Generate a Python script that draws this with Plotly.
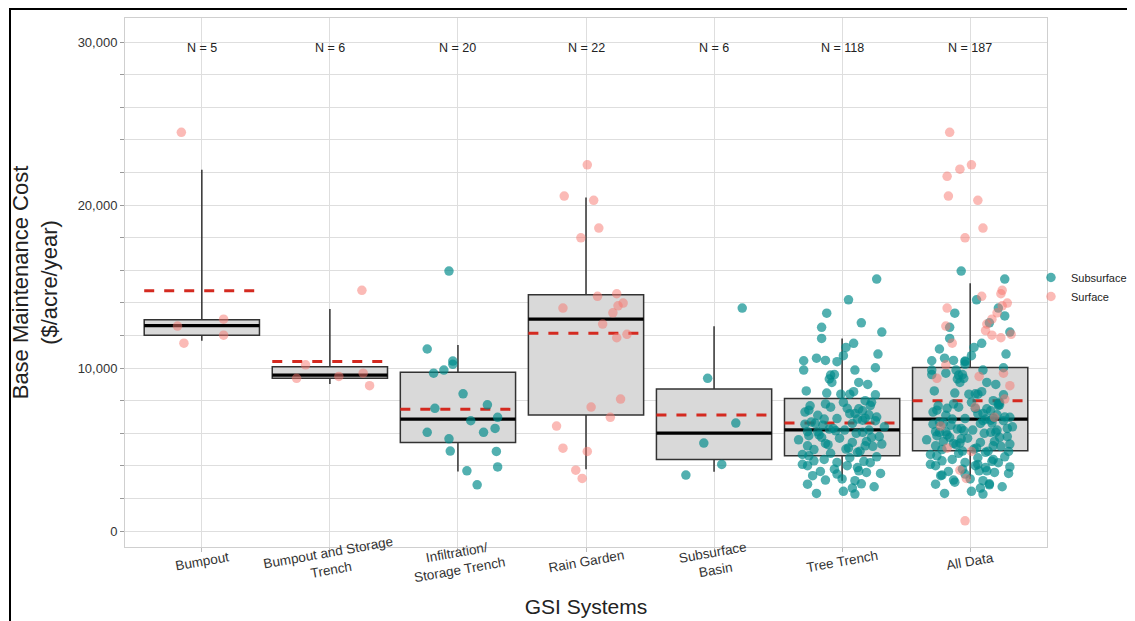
import plotly.graph_objects as go

# ---------------- data ----------------
categories = ["Bumpout", "Bumpout and Storage<br>Trench", "Infiltration/<br>Storage Trench",
              "Rain Garden", "Subsurface<br>Basin", "Tree Trench", "All Data"]
n_labels = ["N = 5", "N = 6", "N = 20", "N = 22", "N = 6", "N = 118", "N = 187"]
positions = [1, 2, 3, 4, 5, 6, 7]

# box statistics ($ thousands / acre / year)
q1_k = [12.02, 9.37, 5.44, 7.12, 4.40, 4.62, 4.93]
median_k = [12.60, 9.57, 6.87, 13.00, 6.01, 6.21, 6.87]
q3_k = [12.96, 10.08, 9.74, 14.50, 8.71, 8.14, 10.04]
lower_k = [11.67, 9.02, 3.66, 3.80, 3.64, 3.09, 3.19]
upper_k = [22.17, 13.62, 11.41, 20.47, 12.56, 11.82, 15.20]
mean_k = [14.74, 10.41, 7.47, 12.13, 7.12, 6.63, 7.99]

# individual sites ($ thousands) and horizontal jitter
bumpout_vals = [24.46, 12.58, 11.53, 13.00, 12.02]
bumpout_jit = [-0.16, -0.19, -0.14, 0.17, 0.17]
bumpout_type = "Surface"

bst_vals = [14.77, 10.20, 9.37, 9.49, 9.69, 8.92]
bst_jit = [0.25, -0.19, -0.26, 0.07, 0.26, 0.31]
bst_type = "Surface"

infil_vals = [11.17, 9.69, 9.88, 10.43, 10.23, 8.42, 7.53, 7.75, 6.77, 6.98,
              6.30, 6.06, 6.06, 5.66, 4.91, 4.89, 3.94, 3.70, 2.84, 15.95]
infil_jit = [-0.24, -0.19, -0.11, -0.04, -0.04, 0.04, -0.18, 0.23, 0.10, 0.31,
             0.29, 0.20, -0.24, -0.07, -0.06, 0.30, 0.31, 0.07, 0.15, -0.07]
infil_type = "Subsurface"

rain_vals = [22.47, 20.55, 20.29, 18.59, 17.99, 14.40, 14.56, 13.68, 13.99, 13.82, 13.39,
             12.70, 11.86, 12.07, 8.10, 7.61, 6.98, 6.44, 5.09, 4.89, 3.74, 3.23]
rain_jit = [0.01, -0.17, 0.06, 0.10, -0.04, 0.09, 0.24, -0.18, 0.29, 0.25, 0.21,
            0.13, 0.24, 0.32, 0.27, 0.04, 0.19, -0.23, -0.18, 0.01, -0.08, -0.03]
rain_type = "Surface"

basin_vals = [13.68, 9.37, 6.63, 5.40, 4.09, 3.44]
basin_jit = [0.22, -0.05, 0.17, -0.08, 0.06, -0.22]
basin_type = "Subsurface"

tree_vals = [15.46, 14.19, 13.37, 12.78, 12.50, 12.21, 11.82, 11.52, 11.27, 10.86,
             10.45, 10.61, 10.47, 10.39, 10.76, 9.88, 9.88, 10.02, 9.57, 9.33,
             9.12, 9.12, 8.55, 8.47, 8.40, 8.36, 8.40, 7.69, 7.42, 7.53,
             7.90, 7.38, 7.22, 7.13, 6.93, 6.87, 6.87, 6.56, 6.61, 6.77,
             6.26, 6.09, 5.85, 5.75, 6.15, 6.06, 5.75, 5.34, 5.23, 5.38,
             5.44, 5.23, 5.03, 4.77, 4.62, 4.83, 4.56, 4.31, 4.21, 4.28,
             4.01, 4.01, 3.70, 3.66, 3.50, 3.54, 3.13, 3.09, 2.88, 2.72,
             2.64, 2.31, 2.44, 2.27,
             4.7, 4.9, 5.0, 5.1, 5.2, 5.3, 5.5, 5.6, 5.7, 5.8,
             5.9, 6.0, 6.1, 6.2, 6.2, 6.3, 6.4, 6.5, 6.6, 6.7,
             6.8, 6.9, 7.0, 7.1, 7.2, 7.3, 7.5, 7.6, 7.7, 7.8,
             7.9, 8.0,
             4.5, 4.4, 4.2, 4.1, 3.9, 3.8, 3.6, 3.4, 3.2, 2.9,
             8.6, 9.0, 9.6]
tree_jit = [0.27, 0.05, -0.12, 0.15, -0.16, 0.31, -0.16, 0.09, 0.03, 0.28,
            -0.30, -0.20, -0.13, -0.04, 0.01, -0.30, 0.10, 0.26, -0.09, -0.10,
            0.13, -0.08, 0.09, -0.12, -0.01, 0.26, 0.06, -0.25, -0.26, 0.04,
            0.23, 0.16, 0.10, 0.21, 0.18, -0.14, 0.12, -0.29, -0.21, 0.26,
            -0.10, -0.19, -0.26, -0.16, -0.05, 0.16, 0.23, 0.31, -0.27, -0.13,
            0.08, 0.18, 0.03, -0.09, -0.26, 0.12, 0.27, -0.22, -0.04, 0.17,
            -0.27, 0.04, 0.13, -0.17, -0.04, 0.30, -0.13, 0.10, -0.27, 0.25,
            0.08, -0.20, 0.01, 0.10,
            -0.31, 0.14, -0.22, 0.05, 0.24, -0.11, 0.19, -0.34, -0.02, 0.29,
            -0.18, 0.11, -0.27, 0.02, 0.21, -0.07, 0.33, -0.15, 0.08, -0.24,
            0.16, -0.04, 0.27, -0.19, 0.06, -0.29, 0.13, -0.09, 0.22, -0.13,
            0.01, 0.18,
            0.06, -0.14, 0.22, -0.31, 0.12, -0.06, 0.19, -0.23, 0.00, 0.15,
            -0.28, 0.20, -0.06]
tree_type = "Subsurface"

# sites only present in "All Data"
extra_vals = [22.20, 21.76, 0.63, 12.30, 13.20, 9.60, 7.80, 5.50, 4.40, 3.00]
extra_jit = [-0.08, -0.18, -0.04, 0.12, 0.27, -0.30, 0.22, -0.21, 0.18, -0.12]
extra_type = ["Surface", "Surface", "Surface", "Surface", "Subsurface",
              "Subsurface", "Subsurface", "Subsurface", "Subsurface", "Subsurface"]

# ---------------- styling ----------------
FONT = "Arial, Liberation Sans, sans-serif"
TEAL = "rgba(0,139,139,0.68)"
PINK = "rgba(248,118,109,0.5)"
BOX_W = 0.9

groups = [
    (bumpout_vals, bumpout_jit, bumpout_type),
    (bst_vals, bst_jit, bst_type),
    (infil_vals, infil_jit, infil_type),
    (rain_vals, rain_jit, rain_type),
    (basin_vals, basin_jit, basin_type),
    (tree_vals, tree_jit, tree_type),
]

pts = {"Subsurface": ([], []), "Surface": ([], [])}
all_idx = 6
for gi, (vals, jit, typ) in enumerate(groups):
    for v, j in zip(vals, jit):
        pts[typ][0].append(positions[gi] + j)
        pts[typ][1].append(v * 1000)
        # same site also goes into "All Data"
        pts[typ][0].append(positions[all_idx] + j)
        pts[typ][1].append(v * 1000)
for v, j, t in zip(extra_vals, extra_jit, extra_type):
    pts[t][0].append(positions[all_idx] + j)
    pts[t][1].append(v * 1000)

fig = go.Figure()

fig.add_trace(go.Box(
    x=positions,
    q1=[v * 1000 for v in q1_k],
    median=[v * 1000 for v in median_k],
    q3=[v * 1000 for v in q3_k],
    lowerfence=[v * 1000 for v in lower_k],
    upperfence=[v * 1000 for v in upper_k],
    width=BOX_W,
    whiskerwidth=0,
    fillcolor="#d9d9d9",
    line=dict(color="#333333", width=1.5),
    boxpoints=False,
    hoverinfo="skip",
    showlegend=False,
))

# thick median lines
mx, my = [], []
for p, m in zip(positions, median_k):
    mx += [p - BOX_W / 2, p + BOX_W / 2, None]
    my += [m * 1000, m * 1000, None]
fig.add_trace(go.Scatter(x=mx, y=my, mode="lines",
                         line=dict(color="black", width=3.2),
                         hoverinfo="skip", showlegend=False))

# dashed mean lines
for p, m in zip(positions, mean_k):
    fig.add_trace(go.Scatter(x=[p - BOX_W / 2, p + BOX_W / 2], y=[m * 1000, m * 1000],
                             mode="lines",
                             line=dict(color="#d42a20", width=3, dash="10px,10px"),
                             hoverinfo="skip", showlegend=False))

for name, col in [("Subsurface", TEAL), ("Surface", PINK)]:
    fig.add_trace(go.Scatter(x=pts[name][0], y=pts[name][1], mode="markers",
                             name=name,
                             marker=dict(color=col, size=9.5, line=dict(width=0))))

# N labels
for p, lab in zip(positions, n_labels):
    fig.add_annotation(x=p, y=30000, text=lab, showarrow=False, yshift=-6,
                       font=dict(family=FONT, size=12.5, color="#222"))

# category labels (rotated, centred under each box)
for p, lab in zip(positions, categories):
    fig.add_annotation(x=p, y=-0.0265, xref="x", yref="paper", text=lab,
                       showarrow=False, textangle=-10, xanchor="center",
                       yanchor="middle", align="center",
                       font=dict(family=FONT, size=13.5, color="#333"))

ytick_vals = list(range(0, 30001, 2000))
ytick_text = [f"{v:,}" if v % 10000 == 0 else "" for v in ytick_vals]

# the page body adds an 8px offset, so the figure is 8px smaller than the window
W, H = 1127, 613
ML, MR, MT, MB = 117, 88, 10, 74
PW, PH = W - ML - MR, H - MT - MB

fig.update_layout(
    width=W, height=H,
    margin=dict(l=ML, r=MR, t=MT, b=MB, autoexpand=False),
    paper_bgcolor="white", plot_bgcolor="white",
    font=dict(family=FONT, color="#222"),
    boxmode="overlay",
    legend=dict(x=0.9826, xanchor="left", y=0.4915, yanchor="middle",
                font=dict(family=FONT, size=11, color="#222"),
                bgcolor="rgba(0,0,0,0)", itemsizing="trace",
                tracegroupgap=0),
    xaxis=dict(range=[0.4, 7.6], tickvals=positions, showticklabels=False,
               showgrid=True, gridcolor="#dedede", gridwidth=1,
               ticks="outside", ticklen=4, tickcolor="#bbbbbb",
               showline=True, linecolor="#cfcfcf", mirror=True, zeroline=False,
               title=dict(text="GSI Systems", standoff=48,
                          font=dict(family=FONT, size=21, color="#222"))),
    yaxis=dict(range=[-975, 31475], tickmode="array", tickvals=ytick_vals,
               ticktext=ytick_text, showgrid=True, gridcolor="#dedede", gridwidth=1,
               ticks="outside", ticklen=4, tickcolor="#999999",
               tickfont=dict(family=FONT, size=13, color="#333"),
               showline=True, linecolor="#cfcfcf", mirror=True, zeroline=False,
               title=dict(text="Base Maintenance Cost<br>($/acre/year)", standoff=14,
                          font=dict(family=FONT, size=22, color="#222"))),
)

# outer frame of the figure
fig.add_shape(type="rect", xref="paper", yref="paper",
              x0=(2 - ML) / PW, x1=(1125 - ML) / PW,
              y0=-0.3, y1=(H - MB - 1) / PH,
              line=dict(color="black", width=2), fillcolor="rgba(0,0,0,0)")

fig.write_html("out.html")
